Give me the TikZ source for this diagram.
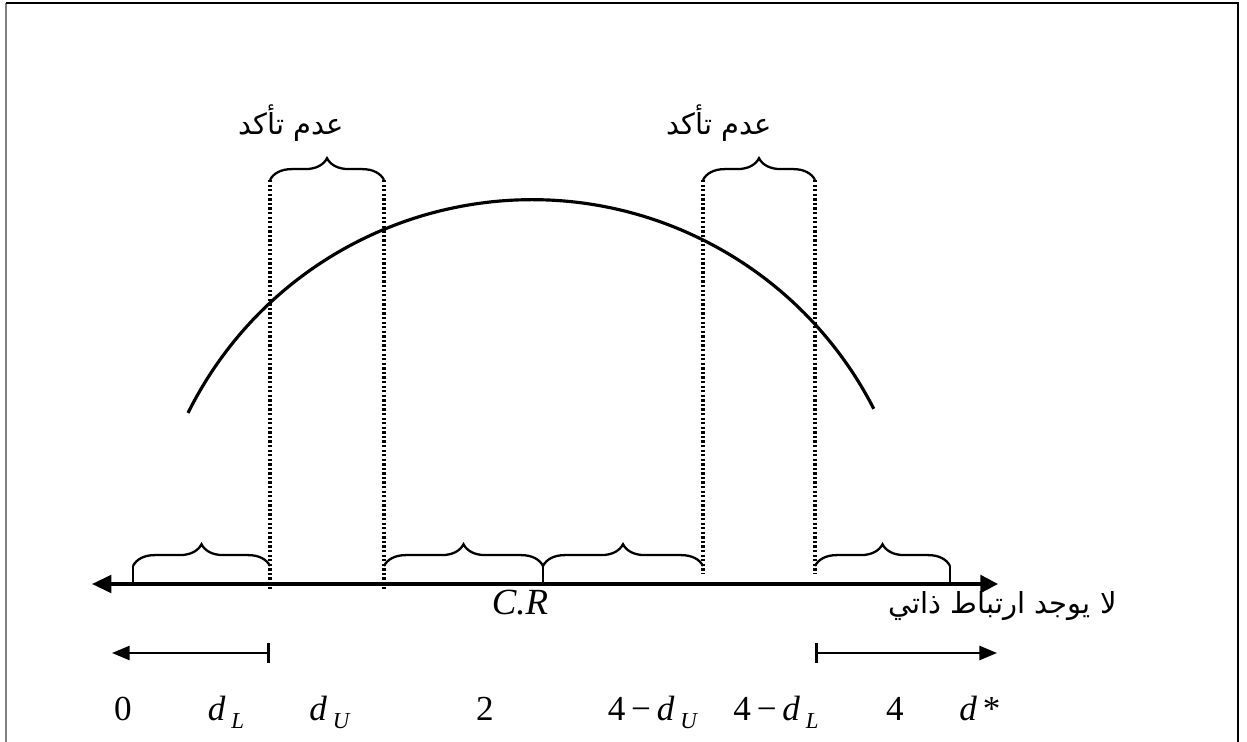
\documentclass[tikz,border=0pt]{standalone}
\usepackage{fontspec}
\setmainfont{Liberation Serif}
\newfontfamily\arabicfont[Script=Arabic]{DejaVu Sans}
\TeXXeTstate=1
\usetikzlibrary{decorations.pathreplacing,arrows.meta}
\newcommand{\dsub}[1]{\textit{d}\,\raisebox{-0.5ex}{\fontsize{13}{13}\selectfont\textit{#1}}}

\begin{document}
\begin{tikzpicture}[x=0.02cm,y=-0.02cm,
  axisline/.style={line width=1.9pt},
  dotline/.style={line width=1.9pt,dash pattern=on 1.3pt off 1.3pt},
  bracepath/.style={line width=1.3pt,decorate,decoration={brace,amplitude=12.4pt}},
  braceline/.style={line width=1.3pt},
  rangearrow/.style={line width=1.3pt,{Bar[width=11pt,line width=1.8pt]}-{Triangle[length=10pt,width=8pt]}},
  numlabel/.style={font=\fontsize{20}{22}\selectfont,anchor=base,inner sep=0pt},
  arlabel/.style={font=\arabicfont\fontsize{16.5}{19}\selectfont,inner sep=0pt}]
\path[use as bounding box] (0,0) rectangle (1247,742);
% frame
\draw[line width=1.2pt,gray] (6,742) -- (6,3);
\draw[line width=0.8pt] (6,3) -- (1238,3) -- (1238,742);
% positions on the axis
\coordinate (p0) at (133,584);
\coordinate (pL) at (270,584);
\coordinate (pU) at (384,584);
\coordinate (pC) at (543,584);
\coordinate (qU) at (703,584);
\coordinate (qL) at (815,584);
\coordinate (p4) at (950,584);
% curve
\draw[line width=1.8pt] (188,413) arc[start angle=-153.6,end angle=-27.1,radius=384];
% dotted bounds
\draw[dotline] (270,180) -- ([yshift=-4]pL);
\draw[dotline] (384,180) -- ([yshift=-4]pU);
\draw[dotline] (703,180) -- ([yshift=6]qU);
\draw[dotline] (815,180) -- ([yshift=6]qL);
% axis
\coordinate (axL) at (92,584);
\coordinate (axR) at (998,584);
\draw[axisline,{Triangle[length=11pt,width=10pt]}-{Triangle[length=10pt,width=10pt]}] (axL) -- (axR);
% top braces
\draw[bracepath] (270,180) -- (384,180);
\draw[bracepath] (703,180) -- (815,180);
\node[arlabel] (unc1) at (291,123) {\beginR عدم تأكد\endR};
\node[arlabel] (unc2) at (719,123) {\beginR عدم تأكد\endR};
% lower braces
\draw[bracepath] (133,566) -- (270,566);
\draw[bracepath] (384,566) -- (543,566);
\draw[bracepath] (543,566) -- (703,566);
\draw[bracepath] (815,566) -- (950,566);
\draw[braceline] (133,566) -- (p0);
\draw[braceline] (543,566) -- (pC);
\draw[braceline] (950,566) -- (p4);
\node[numlabel,font=\fontsize{21}{22}\selectfont\itshape] (cr) at (520,615) {C.R};
\node[arlabel,anchor=east] (noac) at (1117,606) {\beginR لا يوجد ارتباط ذاتي\endR};
% range arrows
\coordinate (rL) at (270,653);
\coordinate (rLend) at (112,653);
\coordinate (rR) at (815,653);
\coordinate (rRend) at (997,653);
\draw[rangearrow] (rL) -- (rLend);
\draw[rangearrow] (rR) -- (rRend);
% values
\node[numlabel] (v0) at (123,720) {0};
\node[numlabel] (vdL) at (226,720) {\dsub{L}};
\node[numlabel] (vdU) at (330,720) {\dsub{U}};
\node[numlabel] (v2) at (485,720) {2};
\node[numlabel] (v4dU) at (653,720) {4\,−\,\dsub{U}};
\node[numlabel] (v4dL) at (776,720) {4\,−\,\dsub{L}};
\node[numlabel] (v4) at (895,720) {4};
\node[numlabel] (vd) at (980,720) {\textit{d}\,*};
\end{tikzpicture}
\end{document}
